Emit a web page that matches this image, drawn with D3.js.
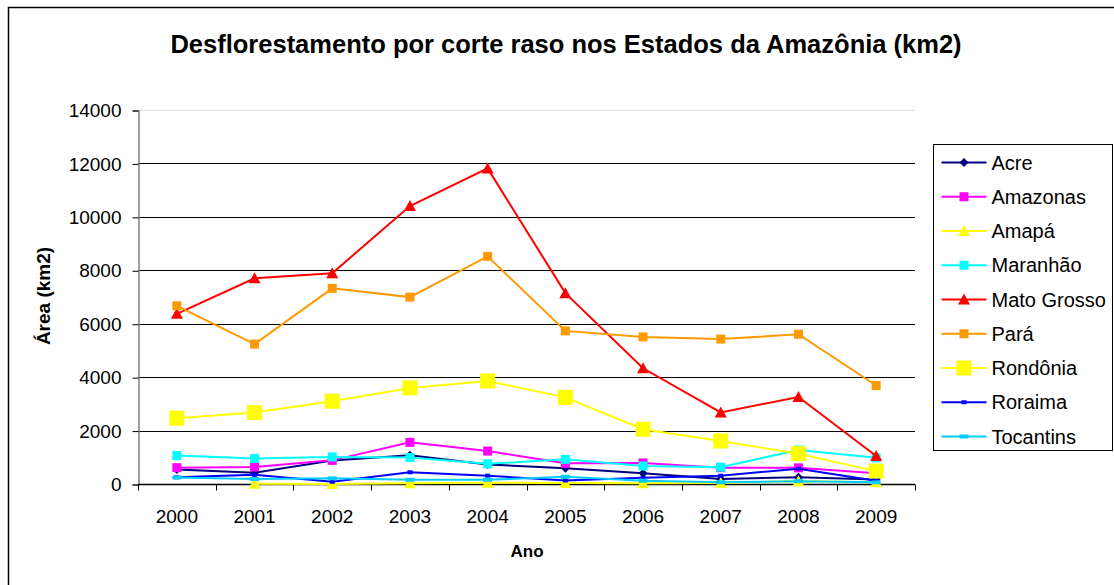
<!DOCTYPE html>
<html>
<head>
<meta charset="utf-8">
<script src="https://cdn.jsdelivr.net/npm/d3@7"></script>
<style>
  body { margin: 0; background: #fff; }
  svg text { font-family: "Liberation Sans", Arial, sans-serif; }
</style>
</head>
<body>
<div class="chart"></div>
<script>
var years = ["2000", "2001", "2002", "2003", "2004", "2005", "2006", "2007", "2008", "2009"];
var yTicks = [0, 2000, 4000, 6000, 8000, 10000, 12000, 14000];

var acre = [547, 419, 883, 1078, 728, 592, 398, 184, 254, 167];
var amazonas = [612, 634, 885, 1558, 1232, 775, 788, 610, 604, 405];
var amapa = [null, 7, 0, 25, 46, 33, 30, 39, 100, 70];
var maranhao = [1065, 958, 1014, 993, 755, 922, 674, 631, 1271, 980];
var matoGrosso = [6369, 7703, 7892, 10405, 11814, 7145, 4333, 2678, 3258, 1049];
var para = [6671, 5237, 7324, 6996, 8521, 5731, 5505, 5425, 5606, 3687];
var rondonia = [2465, 2673, 3099, 3597, 3858, 3244, 2049, 1611, 1136, 482];
var roraima = [253, 345, 84, 439, 311, 133, 231, 309, 574, 121];
var tocantins = [244, 189, 212, 156, 158, 271, 124, 63, 107, 61];

var series = [
  {name: "Acre", values: acre, color: "#000080", marker: "diamond", size: 9},
  {name: "Amazonas", values: amazonas, color: "#FF00FF", marker: "square", size: 9},
  {name: "Amapá", values: amapa, color: "#FFFF00", marker: "triangle", size: 10},
  {name: "Maranhão", values: maranhao, color: "#00FFFF", marker: "square", size: 9},
  {name: "Mato Grosso", values: matoGrosso, color: "#FF0000", marker: "triangle", size: 10},
  {name: "Pará", values: para, color: "#FF9900", marker: "square", size: 9},
  {name: "Rondônia", values: rondonia, color: "#FFFF00", marker: "square", size: 15},
  {name: "Roraima", values: roraima, color: "#0000FF", marker: "dash", size: 5},
  {name: "Tocantins", values: tocantins, color: "#00CCFF", marker: "dash", size: 9}
];

var width = 1114, height = 585;
var plot = {left: 138, right: 915, top: 110, bottom: 484};

var svg = d3.select('div.chart').append('svg')
    .attr('width', width)
    .attr('height', height);

// outer frame
svg.append('rect')
  .attr('x', 8.5).attr('y', 7.5)
  .attr('width', 1120).attr('height', 600)
  .attr('fill', 'white')
  .attr('stroke', '#000')
  .attr('stroke-width', 1.5);

svg.append('text')
  .attr('x', 566).attr('y', 53)
  .attr('text-anchor', 'middle')
  .style('font-size', '25.5px')
  .style('font-weight', 'bold')
  .text('Desflorestamento por corte raso nos Estados da Amazônia (km2)');

var xScale = d3.scaleBand()
    .domain(years)
    .range([plot.left, plot.right]);

var yScale = d3.scaleLinear()
    .domain([0, 14000])
    .range([plot.bottom, plot.top]);

// gridlines
svg.append('g')
  .selectAll('line')
  .data(yTicks.slice(1))
  .enter().append('line')
  .attr('x1', plot.left).attr('x2', plot.right)
  .attr('y1', d => Math.round(yScale(d)) + 0.5)
  .attr('y2', d => Math.round(yScale(d)) + 0.5)
  .attr('stroke', function(d) { return d === 14000 ? '#ddd' : '#000'; })
  .attr('stroke-width', 1);

var yAxis = d3.axisLeft(yScale)
    .tickValues(yTicks)
    .tickSize(6)
    .tickPadding(11)
    .tickFormat(d3.format('d'));

var yAxis_g = svg.append('g')
  .attr('class', 'y axis')
  .attr('transform', 'translate(' + (plot.left + 0.5) + ',0.5)')
  .call(yAxis);
yAxis_g.select('.domain').attr('stroke', '#808080').attr('stroke-width', 1.5);
yAxis_g.selectAll('.tick line').attr('stroke', '#000');
yAxis_g.selectAll('text')
  .style('font-size', '19px')
  .attr('fill', '#000');

// x axis: ticks between categories
var xAxis_g = svg.append('g')
  .attr('class', 'x axis')
  .attr('transform', 'translate(0,' + (plot.bottom + 0.5) + ')');
xAxis_g.append('line')
  .attr('x1', plot.left).attr('x2', plot.right)
  .attr('stroke', '#000').attr('stroke-width', 1.5);
xAxis_g.selectAll('line.tick')
  .data(years.concat(['end']))
  .enter().append('line')
  .attr('class', 'tick')
  .attr('x1', (d, i) => Math.round(plot.left + i * xScale.step()) + 0.5)
  .attr('x2', (d, i) => Math.round(plot.left + i * xScale.step()) + 0.5)
  .attr('y1', 0).attr('y2', 6)
  .attr('stroke', '#000');
xAxis_g.selectAll('text')
  .data(years)
  .enter().append('text')
  .attr('x', d => xScale(d) + xScale.bandwidth() / 2)
  .attr('y', 38)
  .attr('text-anchor', 'middle')
  .style('font-size', '19px')
  .text(d => d);

svg.append('text')
  .attr('x', 527).attr('y', 557)
  .attr('text-anchor', 'middle')
  .style('font-size', '17px')
  .style('font-weight', 'bold')
  .text('Ano');

svg.append('text')
  .attr('transform', 'translate(50,296) rotate(-90)')
  .attr('text-anchor', 'middle')
  .style('font-size', '19px')
  .style('font-weight', 'bold')
  .text('Área (km2)');

function drawMarker(g, s, x, y) {
  var r = s.size / 2;
  if (s.marker === 'square') {
    g.append('rect')
      .attr('x', x - r).attr('y', y - r)
      .attr('width', s.size).attr('height', s.size)
      .attr('fill', s.color);
  } else if (s.marker === 'diamond') {
    g.append('path')
      .attr('d', 'M' + x + ',' + (y - r) + 'L' + (x + r) + ',' + y + 'L' + x + ',' + (y + r) + 'L' + (x - r) + ',' + y + 'Z')
      .attr('fill', s.color);
  } else if (s.marker === 'triangle') {
    g.append('path')
      .attr('d', 'M' + x + ',' + (y - r - 1) + 'L' + (x + r + 1) + ',' + (y + r) + 'L' + (x - r - 1) + ',' + (y + r) + 'Z')
      .attr('fill', s.color);
  } else if (s.marker === 'dash') {
    g.append('rect')
      .attr('x', x - r).attr('y', y - 2)
      .attr('width', s.size).attr('height', 4)
      .attr('fill', s.color);
  }
}

var line = d3.line()
    .defined(d => d.v !== null)
    .x(d => xScale(d.year) + xScale.bandwidth() / 2)
    .y(d => yScale(d.v));

var linesG = svg.append('g');
series.forEach(function(s) {
  var pts = years.map(function(y, i) { return {year: y, v: s.values[i]}; });
  var g = linesG.append('g');
  g.append('path')
    .attr('d', line(pts))
    .attr('fill', 'none')
    .attr('stroke', s.color)
    .attr('stroke-width', 2);
  pts.forEach(function(p) {
    if (p.v === null) return;
    drawMarker(g, s, xScale(p.year) + xScale.bandwidth() / 2, yScale(p.v));
  });
});

// legend
var legend = svg.append('g').attr('transform', 'translate(933.5,144.5)');
legend.append('rect')
  .attr('width', 179).attr('height', 306)
  .attr('fill', 'white')
  .attr('stroke', '#000').attr('stroke-width', 1);
series.forEach(function(s, i) {
  var y = 18 + i * 34.25;
  var g = legend.append('g');
  g.append('line')
    .attr('x1', 8).attr('x2', 53)
    .attr('y1', y).attr('y2', y)
    .attr('stroke', s.color).attr('stroke-width', 2);
  drawMarker(g, s, 30.5, y);
  g.append('text')
    .attr('x', 58).attr('y', y + 7)
    .style('font-size', '20px')
    .text(s.name);
});
</script>
</body>
</html>
